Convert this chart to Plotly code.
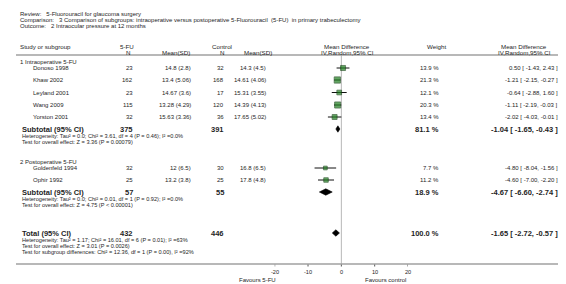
import plotly.graph_objects as go

W, H = 566, 284

# ---------------- data ----------------
title_lines = [
    "Review:   5-Fluorouracil for glaucoma surgery",
    "Comparison:   3 Comparison of subgroups: intraoperative versus postoperative 5-Fluorouracil  (5-FU)  in primary trabeculectomy",
    "Outcome:   2 Intraocular pressure at 12 months",
]
groups = ["1 Intraoperative 5-FU", "2 Postoperative 5-FU"]
studies = [
    ["Donoso 1998", "Khaw 2002", "Leyland 2001", "Wang 2009", "Yorston 2001"],
    ["Goldenfeld 1994", "Ophir 1992"],
]
n_fu = [[23, 162, 23, 115, 32], [32, 25]]
msd_fu = [["14.8 (2.8)", "13.4 (5.06)", "14.67 (3.6)", "13.28 (4.29)", "15.63 (3.36)"],
          ["12 (6.5)", "13.2 (3.8)"]]
n_ct = [[32, 168, 17, 120, 36], [30, 25]]
msd_ct = [["14.3 (4.5)", "14.61 (4.06)", "15.31 (3.55)", "14.39 (4.13)", "17.65 (5.02)"],
          ["16.8 (6.5)", "17.8 (4.8)"]]
weights = [[13.9, 21.3, 12.1, 20.3, 13.4], [7.7, 11.2]]
md = [[0.50, -1.21, -0.64, -1.11, -2.02], [-4.80, -4.60]]
md_lo = [[-1.43, -2.15, -2.88, -2.19, -4.03], [-8.04, -7.00]]
md_hi = [[2.43, -0.27, 1.60, -0.03, -0.01], [-1.56, -2.20]]

sub_n_fu = [375, 57]
sub_n_ct = [391, 55]
sub_w = [81.1, 18.9]
sub_md = [-1.04, -4.67]
sub_lo = [-1.65, -6.60]
sub_hi = [-0.43, -2.74]
sub_het = [
    "Heterogeneity: Tau² = 0.0; Chi² = 3.61, df = 4 (P = 0.46); I² =0.0%",
    "Heterogeneity: Tau² = 0.0; Chi² = 0.01, df = 1 (P = 0.92); I² =0.0%",
]
sub_test = [
    "Test for overall effect: Z = 3.36 (P = 0.00079)",
    "Test for overall effect: Z = 4.75 (P < 0.00001)",
]
tot_n_fu, tot_n_ct, tot_w = 432, 446, 100.0
tot_md, tot_lo, tot_hi = -1.65, -2.72, -0.57
tot_lines = [
    "Heterogeneity: Tau² = 1.17; Chi² = 16.01, df = 6 (P = 0.01); I² =63%",
    "Test for overall effect: Z = 3.01 (P = 0.0026)",
    "Test for subgroup differences: Chi² = 12.36, df = 1 (P = 0.00), I² =92%",
]
tick_vals = [-20, -10, 0, 10, 20]
tick_text = ["-20", "-10", "0", "10", "20"]
fav_left, fav_right = "Favours 5-FU", "Favours control"

# ---------------- layout (pixel rows, y value = pixels from top) ----------------
FONT = "Liberation Sans, Arial, sans-serif"
TXT = "#1e1e1e"
GRID = "#a0a0a0"
AXIS_Y = 256
HEAD_LINE_Y = 47
title_y = [5.5, 11.5, 17.5]
head_y1, head_y2 = 38, 44
group_y = [54, 154]
study_y = [[60, 72, 84.5, 97, 109], [160, 172]]
sub_y = [121, 184]
het_y = [128, 190.5]
test_y = [134, 196.5]
tot_y = 225
tot_lines_y = [231.5, 237.5, 243.5]
tick_lab_y = 263.5
fav_y = 271.5

X_PLOT0, X_PLOT1 = 266.7, 400.0
X_NAME, X_INDENT = 10, 23
X_NFU, X_MFU, X_NCT, X_MCT, X_W, X_MD = 127, 185, 218, 260, 433, 552

fig = go.Figure()

def px(x):
    return x / W

ann = []

def text(x, y, s, size=6.0, anchor="left", bold=False, xref="paper"):
    if bold:
        s = "<b>" + s + "</b>"
    xx = px(x) if xref == "paper" else x
    ann.append(dict(x=xx, y=y, xref=xref, yref="y", text=s, showarrow=False,
                    xanchor=anchor, yanchor="middle",
                    font=dict(family=FONT, size=size, color=TXT)))

RS = 6.0   # row font
BS = 7.5   # bold font
HS = 5.6   # heterogeneity font

for s, y in zip(title_lines, title_y):
    text(X_NAME, y, s, 6.0)

text(X_NAME, head_y1, "Study or subgroup", 6.2)
text(119, head_y1, "5-FU", 6.2, "center")
text(120, head_y2, "N", 6.2, "center")
text(168, head_y2, "Mean(SD)", 6.2, "center")
text(214, head_y1, "Control", 6.2, "center")
text(214, head_y2, "N", 6.2, "center")
text(250, head_y2, "Mean(SD)", 6.2, "center")
text(339, head_y1, "Mean Difference", 6.2, "center")
text(339, head_y2, "IV,Random,95% CI", 6.2, "center")
text(428, head_y1, "Weight", 6.2, "center")
text(516, head_y1, "Mean Difference", 6.2, "center")
text(516, head_y2, "IV,Random,95% CI", 6.2, "center")

sq_x, sq_y, sq_s = [], [], []
ci_x, ci_y = [], []
for g in range(len(groups)):
    text(X_NAME, group_y[g], groups[g], RS)
    for i, name in enumerate(studies[g]):
        y = study_y[g][i]
        text(X_INDENT, y, name, RS)
        text(X_NFU, y, str(n_fu[g][i]), RS, "right")
        text(X_MFU, y, msd_fu[g][i], RS, "right")
        text(X_NCT, y, str(n_ct[g][i]), RS, "right")
        text(X_MCT, y, msd_ct[g][i], RS, "right")
        text(X_W, y, f"{weights[g][i]:.1f} %", RS, "right")
        text(X_MD, y, f"{md[g][i]:.2f} [ {md_lo[g][i]:.2f}, {md_hi[g][i]:.2f} ]", RS, "right")
        sq_x.append(md[g][i]); sq_y.append(y); sq_s.append(1.35 * weights[g][i] ** 0.5)
        ci_x += [md_lo[g][i], md_hi[g][i], None]
        ci_y += [y, y, None]
    y = sub_y[g]
    text(X_NAME + 2, y, "Subtotal (95% CI)", BS, bold=True)
    text(X_NFU, y, str(sub_n_fu[g]), BS, "right", bold=True)
    text(X_NCT, y, str(sub_n_ct[g]), BS, "right", bold=True)
    text(X_W, y, f"{sub_w[g]:.1f} %", BS, "right", bold=True)
    text(X_MD, y, f"{sub_md[g]:.2f} [ {sub_lo[g]:.2f}, {sub_hi[g]:.2f} ]", BS, "right", bold=True)
    text(X_NAME + 2, het_y[g], sub_het[g], HS)
    text(X_NAME + 2, test_y[g], sub_test[g], HS)

text(X_NAME + 2, tot_y, "Total (95% CI)", BS, bold=True)
text(X_NFU, tot_y, str(tot_n_fu), BS, "right", bold=True)
text(X_NCT, tot_y, str(tot_n_ct), BS, "right", bold=True)
text(X_W, tot_y, f"{tot_w:.1f} %", BS, "right", bold=True)
text(X_MD, tot_y, f"{tot_md:.2f} [ {tot_lo:.2f}, {tot_hi:.2f} ]", BS, "right", bold=True)
for s, y in zip(tot_lines, tot_lines_y):
    text(X_NAME + 2, y, s, HS)

# axis tick labels (placed on the data x scale)
for v, t in zip(tick_vals, tick_text):
    text(v, tick_lab_y, t, 5.6, "center", xref="x")
text(-19.0, fav_y, fav_left, 6.0, "right", xref="x")
text(6.5, fav_y, fav_right, 6.0, "left", xref="x")

# tick marks
tk_x, tk_y = [], []
for v in tick_vals:
    tk_x += [v, v, None]
    tk_y += [AXIS_Y, AXIS_Y + 2.5, None]
fig.add_trace(go.Scatter(x=tk_x, y=tk_y, mode="lines", line=dict(color="#555555", width=1),
                         hoverinfo="skip", showlegend=False, cliponaxis=False))
# CI lines
fig.add_trace(go.Scatter(x=ci_x, y=ci_y, mode="lines", line=dict(color="#111111", width=1),
                         hoverinfo="skip", showlegend=False, cliponaxis=False))
# squares
fig.add_trace(go.Scatter(x=sq_x, y=sq_y, mode="markers",
                         marker=dict(symbol="square", size=sq_s, color="#1f7f1f",
                                     line=dict(color="#0a3a0a", width=0.8)),
                         hoverinfo="skip", showlegend=False, cliponaxis=False))
# diamonds
DH = 3.2
for c, lo, hi, y in list(zip(sub_md, sub_lo, sub_hi, sub_y)) + [(tot_md, tot_lo, tot_hi, tot_y)]:
    fig.add_trace(go.Scatter(x=[lo, c, hi, c, lo], y=[y, y - DH, y, y + DH, y],
                             mode="lines", fill="toself", fillcolor="#000000",
                             line=dict(color="#000000", width=0.6),
                             hoverinfo="skip", showlegend=False, cliponaxis=False))

shapes = [
    dict(type="line", xref="paper", yref="y", x0=px(8), x1=px(563), y0=HEAD_LINE_Y, y1=HEAD_LINE_Y,
         line=dict(color=GRID, width=1.6), layer="above"),
    dict(type="line", xref="paper", yref="y", x0=px(8), x1=px(563), y0=AXIS_Y, y1=AXIS_Y,
         line=dict(color=GRID, width=1.5), layer="above"),
    dict(type="line", xref="x", yref="y", x0=0, x1=0, y0=HEAD_LINE_Y, y1=AXIS_Y,
         line=dict(color="#b8b8b8", width=1), layer="below"),
]

fig.update_layout(
    width=W, height=H, margin=dict(l=0, r=0, t=0, b=0),
    paper_bgcolor="white", plot_bgcolor="rgba(0,0,0,0)",
    annotations=ann, shapes=shapes,
    xaxis=dict(domain=[px(X_PLOT0), px(X_PLOT1)], range=[-20, 20], visible=False, automargin=False),
    yaxis=dict(domain=[0, 1], range=[H, 0], visible=False, automargin=False),
    showlegend=False,
)

fig.write_html("out.html")
